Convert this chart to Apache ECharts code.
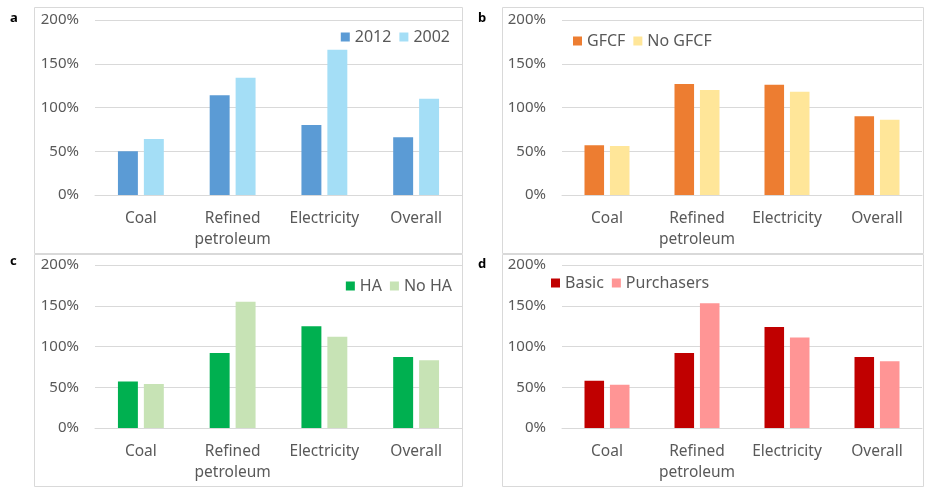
<!DOCTYPE html>
<html lang="en">
<head>
    <meta charset="utf-8">
    <title>Four panels</title>
    <script src="https://cdn.jsdelivr.net/npm/echarts@6/dist/echarts.min.js"></script>
    <style>
        body { margin: 0; background: #fff; }
        #main { width: 925px; height: 490px; }
    </style>
</head>
<body>
<div id="main"></div>

<script type="text/javascript">
    var categories = ['Coal', 'Refined\npetroleum', 'Electricity', 'Overall'];
    var yTicks = [0, 50, 100, 150, 200];

    // panel a
    var a2012 = [50, 114, 80, 66];
    var a2002 = [64, 134, 166, 110];
    // panel b
    var bGFCF = [57, 127, 126, 90];
    var bNoGFCF = [56, 120, 118, 86];
    // panel c
    var cHA = [57, 92, 125, 87];
    var cNoHA = [54, 155, 112, 83];
    // panel d
    var dBasic = [58, 92, 124, 87];
    var dPurch = [53, 153, 111, 82];

    var panels = [
        {tag: 'a', names: ['2012', '2002'], data: [a2012, a2002], colors: ['#5B9BD5', '#A4DEF6'],
            grid: {left: 95, top: 20, width: 367, height: 175}, legend: {right: 475, top: 29}},
        {tag: 'b', names: ['GFCF', 'No GFCF'], data: [bGFCF, bNoGFCF], colors: ['#ED7D31', '#FFE699'],
            grid: {left: 562, top: 20, width: 360, height: 175}, legend: {left: 573, top: 33}},
        {tag: 'c', names: ['HA', 'No HA'], data: [cHA, cNoHA], colors: ['#00B050', '#C7E3B5'],
            grid: {left: 95, top: 265, width: 367, height: 163}, legend: {right: 473, top: 278}},
        {tag: 'd', names: ['Basic', 'Purchasers'], data: [dBasic, dPurch], colors: ['#C00000', '#FF9595'],
            grid: {left: 562, top: 265, width: 360, height: 163}, legend: {left: 551, top: 275}}
    ];

    var frames = [[34, 7, 428, 246], [502, 7, 421, 246], [34, 254, 428, 232], [502, 254, 421, 232]];
    var tagPos = [[10, 18], [478, 18], [10, 261], [478, 264]];

    var grids = [], xAxes = [], yAxes = [], series = [], legends = [], graphics = [];

    panels.forEach(function (p, i) {
        grids.push(p.grid);
        xAxes.push({
            type: 'category', gridIndex: i, data: categories,
            axisLine: {lineStyle: {color: '#D9D9D9'}},
            axisTick: {show: false},
            axisLabel: {interval: 0, color: '#595959', fontSize: 15.5, fontFamily: 'Noto Sans', lineHeight: 21, margin: 13}
        });
        yAxes.push({
            type: 'value', gridIndex: i, min: yTicks[0], max: yTicks[yTicks.length - 1], interval: 50,
            axisLine: {show: false}, axisTick: {show: false},
            splitLine: {lineStyle: {color: '#D9D9D9'}},
            axisLabel: {color: '#595959', fontSize: 15, fontFamily: 'Noto Sans', margin: 16, formatter: '{value}%'}
        });
        p.names.forEach(function (n, k) {
            series.push({
                name: n, type: 'bar', xAxisIndex: i, yAxisIndex: i,
                data: p.data[k], itemStyle: {color: p.colors[k]},
                barCategoryGap: '50%', barGap: '30%'
            });
        });
        legends.push(Object.assign({
            data: p.names, icon: 'rect', itemWidth: 9, itemHeight: 9, itemGap: 8,
            textStyle: {color: '#595959', fontSize: 16, fontFamily: 'Noto Sans'},
            padding: 0, selectedMode: false
        }, p.legend));
        var f = frames[i];
        graphics.push({type: 'rect', shape: {x: f[0] + 0.5, y: f[1] + 0.5, width: f[2], height: f[3]},
            style: {fill: 'none', stroke: '#D9D9D9', lineWidth: 1}, silent: true});
        graphics.push({type: 'text', x: tagPos[i][0], y: tagPos[i][1],
            style: {text: p.tag, fill: '#000', font: 'bold 13px "Noto Sans"', verticalAlign: 'middle'}});
    });

    var myChart = echarts.init(document.getElementById('main'));
    myChart.setOption({
        animation: false,
        grid: grids,
        xAxis: xAxes,
        yAxis: yAxes,
        legend: legends,
        series: series,
        graphic: graphics
    });
</script>
</body>
</html>
